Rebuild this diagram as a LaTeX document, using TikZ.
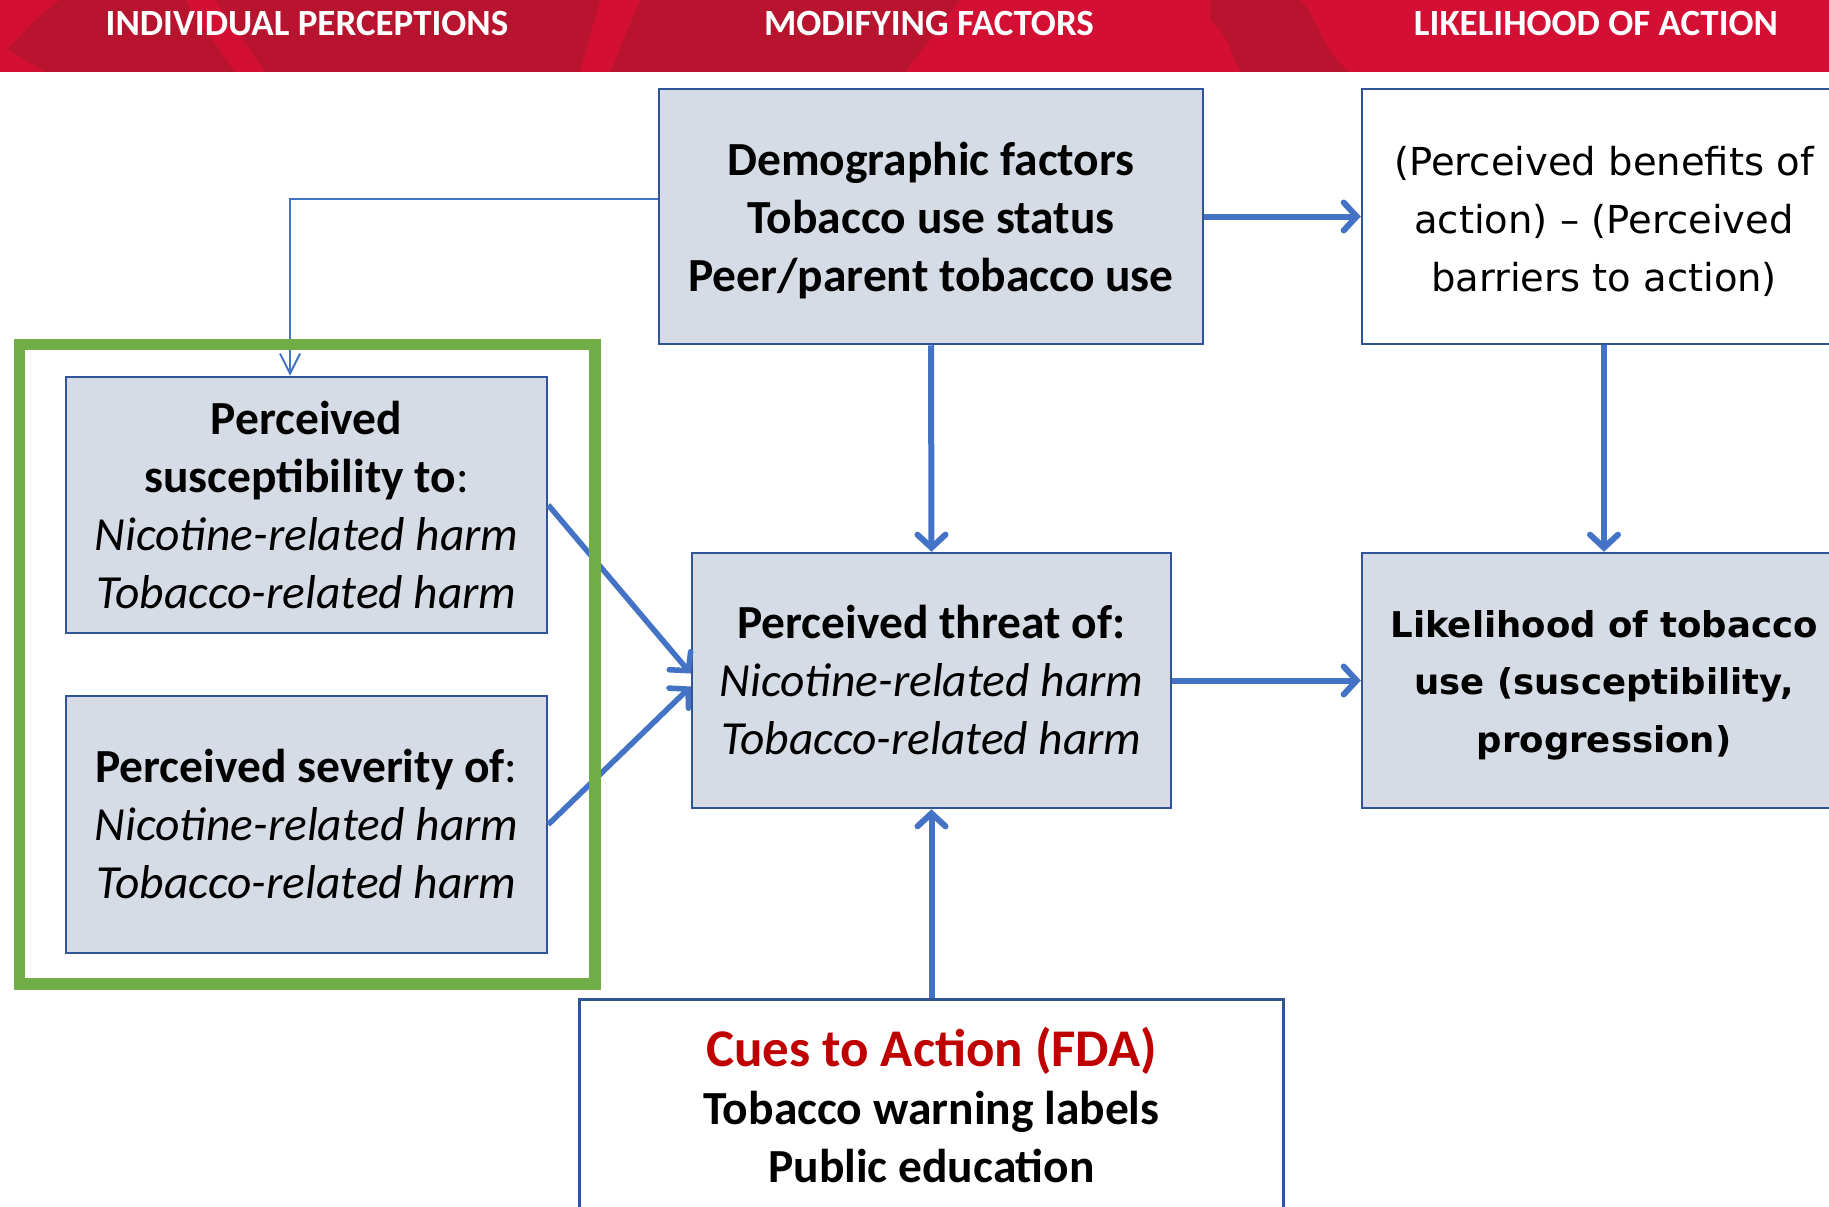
\documentclass[tikz,border=0pt]{standalone}
\usepackage{fontspec}
\setmainfont{Carlito}
\newfontfamily\verd{DejaVu Sans}
\usetikzlibrary{arrows.meta}
\definecolor{hdrbright}{HTML}{D31034}
\definecolor{hdrdark}{HTML}{B8142F}
\definecolor{boxfill}{HTML}{D6DCE5}
\definecolor{boxline}{HTML}{2F5597}
\definecolor{arrowblue}{HTML}{4472C4}
\definecolor{greenframe}{HTML}{70AD47}
\definecolor{cuered}{HTML}{C00000}
\tikzset{
  box/.style={draw=boxline, line width=2.5pt, fill=boxfill, align=center, inner sep=0pt},
  wbox/.style={draw=boxline, line width=2.5pt, fill=white, align=center, inner sep=0pt},
  txt/.style={align=center, inner sep=0pt},
  calib/.style={font=\fontsize{47.5}{58}\selectfont},
  verdfont/.style={font=\verd\fontsize{38.5}{58}\selectfont},
  verdbold/.style={font=\verd\bfseries\fontsize{35.5}{57.5}\selectfont},
  hdr/.style={text=white, font=\bfseries\fontsize{37}{44}\selectfont, anchor=base},
  thick arrow/.style={draw=arrowblue, line width=6pt, -{Straight Barb[length=13pt,width=28pt,line cap=round]}},
  thin arrow/.style={draw=arrowblue, line width=2pt, -{Straight Barb[length=20pt,width=20pt]}},
}
\begin{document}
\begin{tikzpicture}[x=1pt,y=-1pt]
\useasboundingbox (0,0) rectangle (1829,1207);
\fill[white] (0,0) rectangle (1829,1207);
% header band
\fill[hdrbright] (0,0) rectangle (1829,72);
\fill[hdrdark] (60,0) .. controls (30,20) and (20,40) .. (0,55) -- (0,72) -- (905,72) -- (960,0) -- cycle;
\fill[hdrbright] (185,0) -- (215,0) -- (265,72) -- (235,72) -- cycle;
\fill[hdrbright] (600,0) -- (640,0) -- (610,72) -- (580,72) -- cycle;
\fill[hdrbright] (0,72) -- (45,72) -- (0,45) -- cycle;
\fill[hdrdark] (1210,0) -- (1300,0) .. controls (1320,20) and (1320,50) .. (1350,72) -- (1240,72) .. controls (1230,50) and (1225,30) .. (1210,20) -- cycle;
% header texts
\node[hdr] (h1) at (307,36) {INDIVIDUAL PERCEPTIONS};
\node[hdr] (h2) at (929,36) {MODIFYING FACTORS};
\node[hdr] (h3) at (1596,36) {LIKELIHOOD OF ACTION};
% boxes
\node[box, minimum width=544pt, minimum height=255pt] (demo) at (931,216.5) {};
\node[txt, calib] (demotext) at ([yshift=-4.5pt]demo.center)
  {\bfseries Demographic factors\\ \bfseries Tobacco use status\\ \bfseries Peer/parent tobacco use};
\node[wbox, minimum width=484pt, minimum height=255pt] (benef) at (1604,216.5) {};
\node[txt, verdfont] (beneftext) at ([yshift=-4.5pt]benef.center)
  {(Perceived benefits of\\ action) – (Perceived\\ barriers to action)};
\node[box, calib, minimum width=481pt, minimum height=256pt] (susc) at (306.5,505)
  {\textbf{Perceived}\\ \textbf{susceptibility to}:\\ \textit{Nicotine-related harm}\\ \textit{Tobacco-related harm}};
\node[box, calib, minimum width=481pt, minimum height=257pt] (sev) at (306.5,824.5)
  {\textbf{Perceived severity of}:\\ \textit{Nicotine-related harm}\\ \textit{Tobacco-related harm}};
\node[box, calib, minimum width=479pt, minimum height=255pt] (threat) at (931.5,680.5)
  {\textbf{Perceived threat of:}\\ \textit{Nicotine-related harm}\\ \textit{Tobacco-related harm}};
\node[box, minimum width=484pt, minimum height=255pt] (likely) at (1604,680.5) {};
\node[txt, verdbold] (likelytext) at ([yshift=-4.5pt]likely.center)
  {Likelihood of tobacco\\ use (susceptibility,\\ progression)};
\node[wbox, minimum width=704pt, minimum height=220pt] (cues) at (931.5,1109.5) {};
\node[txt, calib] (cuestext) at ([yshift=5pt]cues.center)
  {{\color{cuered}\bfseries\fontsize{53}{60}\selectfont Cues to Action (FDA)}\\ \bfseries Tobacco warning labels\\ \bfseries Public education};
% connectors
\draw[thin arrow] ([yshift=17.5pt]demo.west) -| ([xshift=-16.5pt]susc.north);
\draw[thick arrow] (demo.east) -- (benef.west);
\draw[thick arrow] (demo.south) -- (threat.north);
\draw[thick arrow] (benef.south) -- (likely.north);
\draw[thick arrow] (threat.east) -- (likely.west);
\draw[thick arrow] (cues.north) -- (threat.south);
\draw[thick arrow, line width=5.5pt] (susc.east) -- ([yshift=7pt]threat.west);
\draw[thick arrow, line width=5.5pt] (sev.east) -- ([yshift=-6pt]threat.west);
% green frame
\draw[greenframe, line width=11.5pt] (19.5,344.7) rectangle (595,984);
\end{tikzpicture}
\end{document}
